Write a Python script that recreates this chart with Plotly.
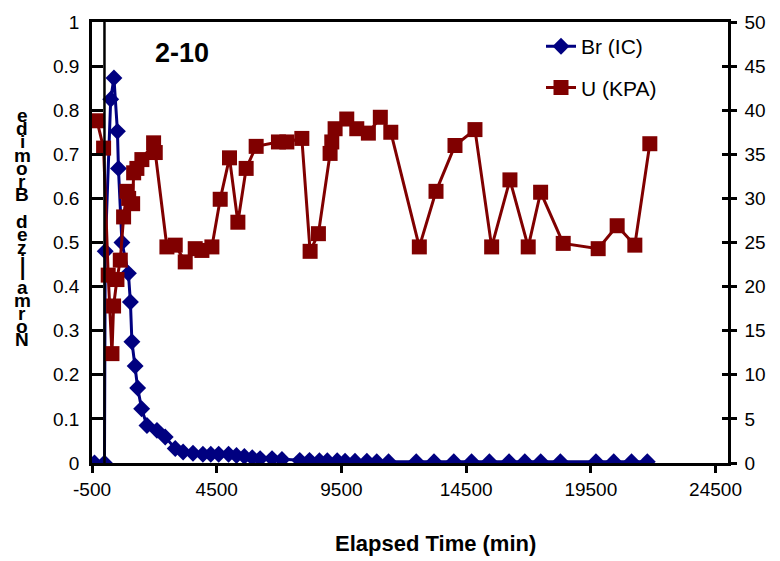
import plotly.graph_objects as go

# ---- data ----
br_time = [-400, 0, 30, 250, 380, 520, 560, 700, 960, 1040, 1100, 1230, 1331, 1491,
           1703, 2104, 2436, 2837, 3153, 3550, 3947, 4263, 4580, 4976, 5293, 5609,
           5926, 6242, 6719, 7115, 7829, 8221, 8618, 8934, 9331, 9647, 10044, 10520,
           10917, 11390, 12500, 13213, 14006, 14719, 15432, 16221, 16854, 17491,
           18280, 19706, 20419, 21132, 21765]
br_conc = [0, 0, 0.48, 0.825, 0.873, 0.752, 0.668, 0.50, 0.43, 0.365, 0.275, 0.22,
           0.17, 0.123, 0.085, 0.074, 0.059, 0.033, 0.025, 0.022, 0.02, 0.02, 0.02,
           0.02, 0.017, 0.015, 0.012, 0.01, 0.01, 0.008, 0.006, 0.006, 0.005, 0.005,
           0.005, 0.004, 0.004, 0.004, 0.003, 0.003, 0.003, 0.003, 0.003, 0.003,
           0.003, 0.003, 0.003, 0.003, 0.003, 0.003, 0.003, 0.003, 0.003]

u_time = [-300, -35, 150, 300, 365, 500, 634, 767, 900, 970, 1130, 1170, 1300, 1500,
          1970, 2036, 2504, 2837, 3238, 3638, 3906, 4307, 4640, 5012, 5349, 5681,
          6082, 6975, 7312, 7913, 8245, 8578, 9046, 9114, 9247, 9715, 10116, 10581,
          11060, 11480, 12624, 13293, 14054, 14855, 15524, 16257, 16990, 17487,
          18393, 19795, 20556, 21265, 21866]
u_kpa = [38.8, 35.7, 21.3, 12.4, 17.8, 20.8, 23.0, 27.9, 30.8, 30.0, 29.4, 32.9,
         33.4, 34.4, 36.3, 35.2, 24.5, 24.7, 22.8, 24.3, 24.1, 24.5, 29.9, 34.6,
         27.3, 33.4, 35.9, 36.4, 36.4, 36.8, 24.0, 26.0, 35.1, 36.4, 37.9, 39.0,
         37.9, 37.4, 39.2, 37.5, 24.5, 30.8, 36.0, 37.8, 24.5, 32.1, 24.5, 30.7,
         24.9, 24.3, 26.9, 24.7, 36.2]

x_ticks = [-500, 4500, 9500, 14500, 19500, 24500]
y_left_ticks = [0, 0.1, 0.2, 0.3, 0.4, 0.5, 0.6, 0.7, 0.8, 0.9, 1]
y_right_ticks = [0, 5, 10, 15, 20, 25, 30, 35, 40, 45, 50]
y_left_title = "Normalized Bromide"

FONT = "Arial, 'Liberation Sans', sans-serif"
NAVY = "#000080"
MAROON = "#800000"

W, H = 780, 561
L, R, T, B = 92, 52, 15, 98
pw, ph = W - L - R, H - T - B


def px_x(px):
    return (px - L) / pw


def px_y(py):
    return (H - py - B) / ph


fig = go.Figure()
fig.add_trace(go.Scatter(
    x=br_time, y=br_conc, name="Br (IC)", mode="lines+markers",
    line=dict(color=NAVY, width=3),
    marker=dict(symbol="diamond", size=13, color=NAVY),
    legend="legend", yaxis="y"))
fig.add_trace(go.Scatter(
    x=u_time, y=u_kpa, name="U (KPA)", mode="lines+markers",
    line=dict(color=MAROON, width=3),
    marker=dict(symbol="square", size=15, color=MAROON),
    legend="legend2", yaxis="y2"))

axis_common = dict(showgrid=False, zeroline=False, linecolor="black", linewidth=2.5,
                   tickcolor="black", tickwidth=2.5,
                   tickfont=dict(family=FONT, size=19, color="black"))
axis_nofont = {k: v for k, v in axis_common.items() if k != "tickfont"}

fig.update_layout(
    width=W, height=H,
    margin=dict(l=L, r=R, t=T, b=B, pad=0),
    paper_bgcolor="white", plot_bgcolor="white",
    font=dict(family=FONT, color="black"),
    xaxis=dict(range=[-500, 25000], tickvals=x_ticks, ticktext=[str(v) for v in x_ticks],
               ticks="outside", ticklen=7, showline=True, mirror=True, **axis_common),
    yaxis=dict(range=[0, 1], tickvals=y_left_ticks, ticktext=[f"{v:g}" for v in y_left_ticks],
               ticks="inside", ticklen=11, showline=True, ticklabelstandoff=6, **axis_common),
    yaxis2=dict(range=[0, 50], tickvals=y_right_ticks, ticktext=[str(v) for v in y_right_ticks],
                overlaying="y", side="right", anchor="x", ticks="outside", ticklen=6,
                showline=True, ticklabelstandoff=4, **axis_common),
    yaxis3=dict(range=[0, 50], tickvals=y_right_ticks, overlaying="y", side="right",
                anchor="x", ticks="inside", ticklen=6, showline=False,
                showticklabels=False, **axis_nofont),
    legend=dict(x=px_x(541), y=px_y(40), xanchor="left", yanchor="middle",
                bgcolor="rgba(0,0,0,0)", font=dict(family=FONT, size=21, color="black")),
    legend2=dict(x=px_x(541), y=px_y(82), xanchor="left", yanchor="middle",
                 bgcolor="rgba(0,0,0,0)", font=dict(family=FONT, size=21, color="black")),
    showlegend=True,
)

# dummy trace to activate yaxis3 (inside half of the crossing ticks on right axis)
fig.add_trace(go.Scatter(x=[None], y=[None], yaxis="y3", showlegend=False, hoverinfo="skip"))

# vertical value-axis line at x = 0
fig.add_shape(type="line", xref="x", yref="y", x0=0, x1=0, y0=0, y1=1,
              line=dict(color="black", width=2.5))

# chart title
fig.add_annotation(text="<b>2-10</b>", xref="paper", yref="paper",
                   x=px_x(182), y=px_y(47), xanchor="center", yanchor="middle",
                   showarrow=False, font=dict(family=FONT, size=27, color="black"))

# x-axis title
fig.add_annotation(text="<b>Elapsed Time (min)</b>", xref="paper", yref="paper",
                   x=px_x(435), y=px_y(545), xanchor="center", yanchor="middle",
                   showarrow=False, font=dict(family=FONT, size=22, color="black"))

# stacked left-axis title, letters upright, bottom to top
chars = list(y_left_title)
top_py, bot_py = 110, 338
n = len(chars)
for i, ch in enumerate(chars):
    if ch == " ":
        continue
    py = bot_py - i * (bot_py - top_py) / (n - 1)
    fig.add_annotation(text=f"<b>{ch}</b>", xref="paper", yref="paper",
                       x=px_x(22), y=px_y(py), xanchor="center", yanchor="middle",
                       showarrow=False, font=dict(family=FONT, size=19, color="black"))

fig.write_html("out.html")
